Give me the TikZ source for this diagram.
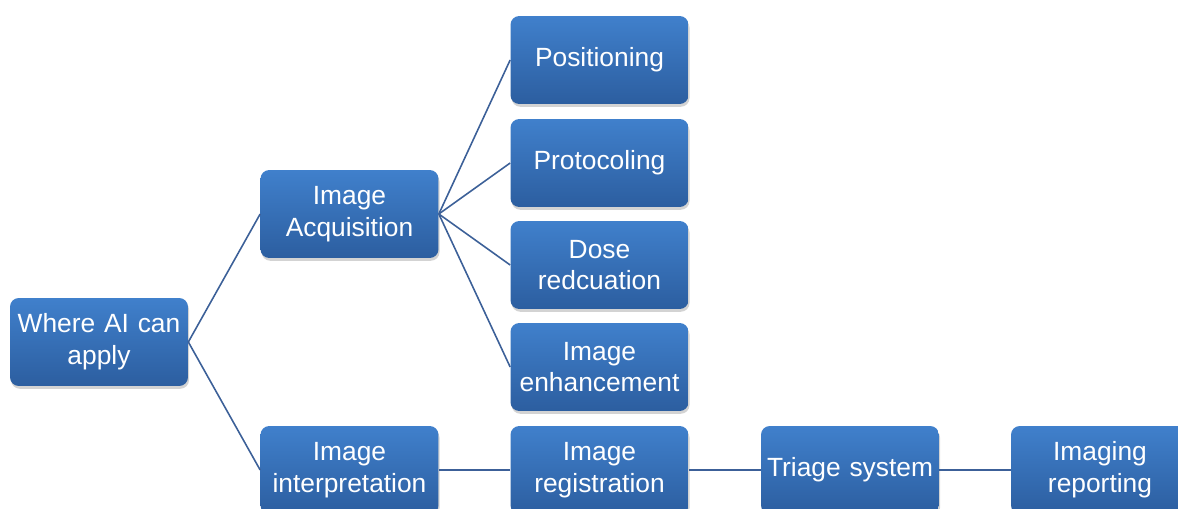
\documentclass[tikz,border=0pt]{standalone}
\usepackage{fontspec}
\setmainfont{Liberation Sans}
\usepackage{tikz}
\usetikzlibrary{shadows, positioning}
\definecolor{boxtop}{RGB}{64,128,204}
\definecolor{boxbot}{RGB}{44,94,160}
\definecolor{linkblue}{RGB}{60,96,152}
\tikzset{
  block/.style={rectangle, top color=boxtop, bottom color=boxbot, draw=none,
    text=white, text width=3.5cm, align=center, minimum width=3.56cm,
    minimum height=1.76cm, font=\fontsize{15}{18}\selectfont,
    rounded corners=5pt, inner sep=0pt,
    drop shadow={opacity=0.35, shadow xshift=0.6pt, shadow yshift=-1.6pt}},
  link/.style={line width=0.9pt, color=linkblue}
}
\begin{document}
\begin{tikzpicture}[x=0.02cm, y=-0.02cm]
  \useasboundingbox (0,0) rectangle (1178,509);

  \node[block] (root) at (99,342) {Where AI can\\apply};
  \node[block] (acq) at (349.5,214) {Image\\Acquisition};
  \node[block] (intp) at (349.5,470) {Image\\interpretation};

  \node[block] (pos) at (599.5,60) {Positioning};
  \node[block] (prot) at (599.5,163) {Protocoling};
  \node[block] (dose) at (599.5,265) {Dose\\redcuation};
  \node[block] (enh) at (599.5,367) {Image\\enhancement};

  \node[block] (reg) at (599.5,470) {Image\\registration};
  \node[block] (tri) at (850,470) {Triage system};
  \node[block] (rep) at (1100,470) {Imaging\\reporting};

  \draw[link] (root.east) -- (acq.west);
  \draw[link] (root.east) -- (intp.west);
  \foreach \c in {pos, prot, dose, enh}
    \draw[link] (acq.east) -- (\c.west);
  \draw[link] (intp) -- (reg);
  \draw[link] (reg) -- (tri);
  \draw[link] (tri) -- (rep);

\end{tikzpicture}
\end{document}
